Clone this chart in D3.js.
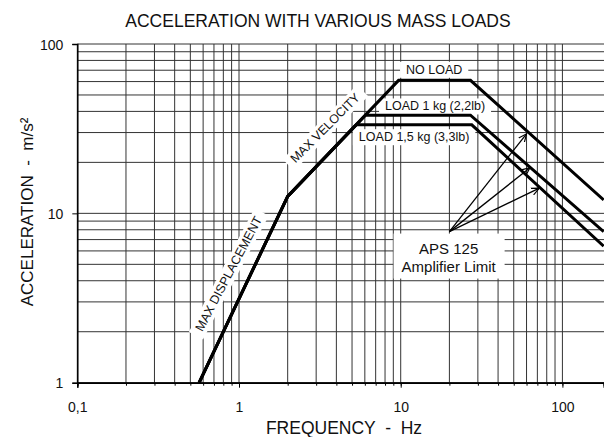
<!DOCTYPE html>
<html>
<head>
<meta charset="utf-8">
<script src="https://cdn.jsdelivr.net/npm/d3@7"></script>
<style>
  body { margin: 0; background: #fff; }
  text { font-family: Arial, "Liberation Sans", sans-serif; fill: #111; white-space: pre; }
</style>
</head>
<body>
<svg id="chart" width="604" height="437"></svg>
<script>
// Chart values
var title = "ACCELERATION WITH VARIOUS MASS LOADS";
var xTitle = "FREQUENCY  -  Hz";
var yTitle = "ACCELERATION  -  m/s\u00B2";

// frequency (Hz), acceleration (m/s²)
var noLoad  = [[0.567, 1], [2, 12.6], [9.7, 61],  [27, 61],    [180, 12]];
var load1kg = [[0.567, 1], [2, 12.6], [6.05, 38], [27, 38],    [180, 7.8]];
var load15kg= [[0.567, 1], [2, 12.6], [5.3, 33.3],[27.5, 33.3],[180, 6.4]];

var xTickValues = [0.1, 1, 10, 100];
var yTickValues = [1, 10, 100];

// annotations: text, [freq, accel], angle
var curveLabels = [
  { text: "NO LOAD", at: [16.1, 70.8], angle: 0 },
  { text: "LOAD 1 kg (2,2lb)", at: [16.3, 43], angle: 0 },
  { text: "LOAD 1,5 kg (3,3lb)", at: [12.1, 28.3], angle: 0 },
  { text: "MAX VELOCITY", at: [3.4, 32], angle: -45 },
  { text: "MAX DISPLACEMENT", at: [0.86, 4.4], angle: -62 }
];
var ampLabel = ["APS 125", "Amplifier Limit"];
var ampLabelAt = [19.8, 5.5];
var arrowFrom = [20, 7.8];
var arrowTips = [[60, 29.5], [63, 18.6], [72, 14.1]];

// scales
var svg = d3.select("#chart");
var x = d3.scaleLog().domain([0.1, 180]).range([77.3, 603.7]);
var y = d3.scaleLog().domain([1, 100]).range([382.7, 44]);

// grid
var grid = svg.append("g").attr("stroke", "#333").attr("stroke-width", 1);
grid.selectAll(".vg").data(x.ticks()).enter().append("line")
  .attr("x1", function(d) { return x(d); }).attr("x2", function(d) { return x(d); })
  .attr("y1", y(1)).attr("y2", y(100));
grid.selectAll(".hg").data(y.ticks()).enter().append("line")
  .attr("x1", x(0.1)).attr("x2", 604)
  .attr("y1", function(d) { return y(d); }).attr("y2", function(d) { return y(d); });

// axes
var fmt = function(d) { return String(d).replace(".", ","); };
var xMinor = svg.append("g").attr("transform", "translate(0," + y(1) + ")")
  .call(d3.axisBottom(x).tickValues(x.ticks()).tickSize(3).tickFormat(""));
var xAxis = svg.append("g").attr("transform", "translate(0," + y(1) + ")")
  .call(d3.axisBottom(x).tickValues(xTickValues).tickSize(5).tickPadding(14).tickFormat(fmt));
var yAxis = svg.append("g").attr("transform", "translate(" + x(0.1) + ",0)")
  .call(d3.axisLeft(y).tickValues(yTickValues).tickSize(5).tickPadding(9).tickFormat(fmt));
[xMinor, xAxis, yAxis].forEach(function(a) {
  a.select(".domain").attr("stroke", "#000").attr("stroke-width", 1.5);
  a.selectAll(".tick line").attr("stroke", "#000");
  a.selectAll("text").style("font-size", "14px").attr("fill", "#111")
    .style("font-family", "Arial, 'Liberation Sans', sans-serif");
});
yAxis.selectAll("text").attr("dy", "0.36em");

// curve labels with white boxes
curveLabels.forEach(function(l) {
  var g = svg.append("g")
    .attr("transform", "translate(" + x(l.at[0]) + "," + y(l.at[1]) + ") rotate(" + l.angle + ")");
  var rect = g.append("rect").attr("fill", "#fff");
  var t = g.append("text").attr("text-anchor", "middle").attr("dy", "0.35em")
    .style("font-size", "12.5px").text(l.text);
  var b = t.node().getBBox();
  rect.attr("x", b.x - 6).attr("y", b.y - 1).attr("width", b.width + 12).attr("height", b.height + 2);
});

// amplifier limit box
var ag = svg.append("g").attr("transform", "translate(" + x(ampLabelAt[0]) + "," + y(ampLabelAt[1]) + ")");
var arect = ag.append("rect").attr("fill", "#fff");
var at = ag.append("text").attr("text-anchor", "middle").style("font-size", "15px");
at.selectAll("tspan").data(ampLabel).enter().append("tspan")
  .attr("x", 0).attr("dy", function(d, i) { return i === 0 ? "-0.25em" : "1.2em"; })
  .text(function(d) { return d; });
var ab = at.node().getBBox();
arect.attr("x", ab.x - 8).attr("y", ab.y - 6).attr("width", ab.width + 16).attr("height", ab.height + 10);

// curves
var line = d3.line().x(function(d) { return x(d[0]); }).y(function(d) { return y(d[1]); });
svg.append("g").selectAll("path").data([noLoad, load1kg, load15kg]).enter().append("path")
  .attr("d", line).attr("fill", "none").attr("stroke", "#000")
  .attr("stroke-width", 3).attr("stroke-linejoin", "miter");

// arrows
svg.append("defs").append("marker").attr("id", "arr")
  .attr("viewBox", "0 -5 10 10").attr("refX", 9).attr("refY", 0)
  .attr("markerWidth", 9).attr("markerHeight", 9).attr("orient", "auto")
  .attr("markerUnits", "userSpaceOnUse")
  .append("path").attr("d", "M0,-4L9,0L0,4").attr("fill", "none")
  .attr("stroke", "#000").attr("stroke-width", 1.3);
svg.append("g").selectAll("line").data(arrowTips).enter().append("line")
  .attr("x1", x(arrowFrom[0])).attr("y1", y(arrowFrom[1]))
  .attr("x2", function(d) { return x(d[0]); }).attr("y2", function(d) { return y(d[1]); })
  .attr("stroke", "#000").attr("stroke-width", 1.3).attr("marker-end", "url(#arr)");

// titles
svg.append("text").attr("x", 318).attr("y", 27).attr("text-anchor", "middle")
  .style("font-size", "17.5px").text(title);
svg.append("text").attr("x", 344).attr("y", 434).attr("text-anchor", "middle")
  .style("font-size", "17.5px").text(xTitle);
svg.append("text").attr("transform", "translate(33,212) rotate(-90)").attr("text-anchor", "middle")
  .style("font-size", "17px").text(yTitle);
</script>
</body>
</html>
